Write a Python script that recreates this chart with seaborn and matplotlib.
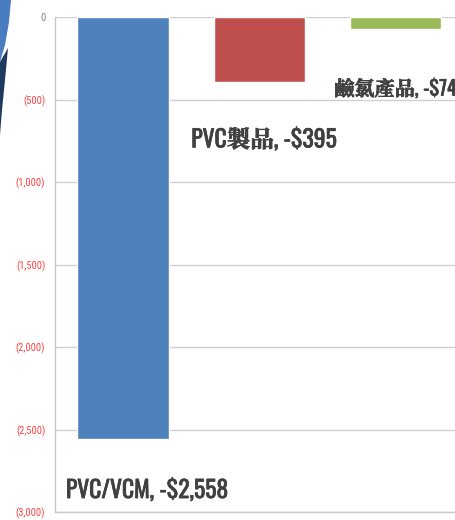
import matplotlib
matplotlib.use("Agg")
import matplotlib.pyplot as plt
import matplotlib.patheffects as pe
from matplotlib.patches import Polygon
import seaborn as sns
import pandas as pd

categories = ["PVC/VCM", "PVC製品", "鹼氯產品"]
values = [-2558, -395, -74]
colors = ["#4F81BD", "#C0504D", "#9BBB59"]
labels = ["PVC/VCM, -$2,558", "PVC製品, -$395", "鹼氯產品, -$74"]
yticks = [0, -500, -1000, -1500, -2000, -2500, -3000]
yticklabels = ["0", "(500)", "(1,000)", "(1,500)", "(2,000)", "(2,500)", "(3,000)"]

sns.set_style("white")
plt.rcParams['font.family'] = ['Roboto Condensed', 'Archivo Narrow', 'Noto Sans CJK TC', 'DejaVu Sans']

W, H = 456, 520
fig = plt.figure(figsize=(W / 100, H / 100), dpi=100)
ax = fig.add_axes([55 / W, 1 - 512 / H, 1 - 55 / W + 0.002, (512 - 17) / H])

df = pd.DataFrame({"cat": categories, "val": values})
sns.barplot(data=df, x="cat", y="val", hue="cat", palette=colors, width=0.67,
            legend=False, ax=ax, saturation=1)

ax.set_ylim(-3000, 0)
ax.set_xlim(-0.5, 2.45)
ax.set_yticks(yticks)
ax.set_yticklabels(yticklabels)
for t, lab in zip(ax.get_yticklabels(), yticklabels):
    t.set_color("#808080" if lab == "0" else "#FF4040")
    t.set_fontsize(7.5)
ax.tick_params(axis="y", length=0, pad=7)
ax.set_xticks([])
ax.set_xlabel("")
ax.set_ylabel("")
ax.yaxis.grid(True, color="#D0D0D0", linewidth=1)
ax.set_axisbelow(True)
for s in ["top", "right"]:
    ax.spines[s].set_visible(False)
for s in ["left", "bottom"]:
    ax.spines[s].set_color("#C8C8C8")
    ax.spines[s].set_linewidth(1)

# data labels
lab_family = ['Oswald', 'Roboto Condensed', 'Noto Serif CJK TC', 'Noto Sans CJK TC', 'DejaVu Sans']
pos = [(-0.42, -2865, 17), (0.5, -740, 17), (1.55, -430, 14.5)]
for (x, y, fs), lab in zip(pos, labels):
    ax.text(x, y, lab, ha="left", va="center", fontsize=fs, fontweight="bold",
            color="#404040", family=lab_family,
            path_effects=[pe.withStroke(linewidth=0.5, foreground="#404040")])

# decorative shape at top-left
def px(points):
    return [(x / W, 1 - y / H) for x, y in points]

fig.patches.append(Polygon(px([(0, 0), (11, 0), (9, 22), (5, 45), (0, 62)]),
                           closed=True, transform=fig.transFigure,
                           facecolor="#4A7CC0", edgecolor="none"))
fig.patches.append(Polygon(px([(0, 62), (8, 48), (5, 80), (2, 110), (0, 135)]),
                           closed=True, transform=fig.transFigure,
                           facecolor="#1F3A5F", edgecolor="none"))

fig.savefig("out.png", dpi=100)
